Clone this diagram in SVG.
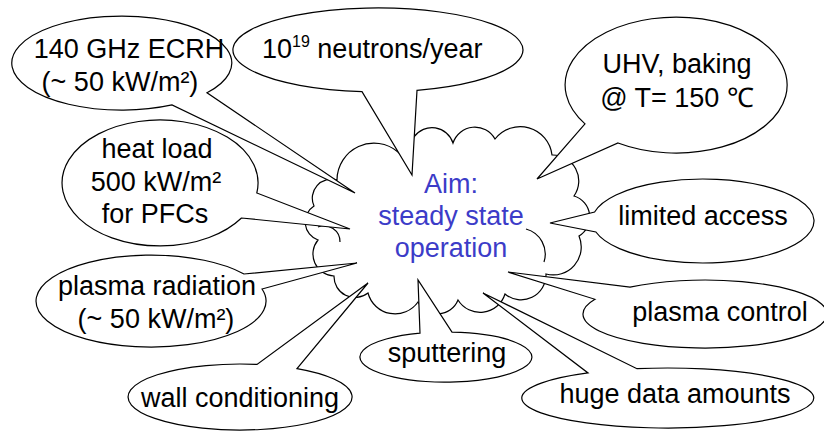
<svg xmlns="http://www.w3.org/2000/svg" width="824" height="432" viewBox="0 0 824 432">
<style>
.sh{fill:#fff;stroke:#000;stroke-width:1.2;stroke-linejoin:miter}
.in{fill:none;stroke:#000;stroke-width:1.2}
.t{font-family:"Liberation Sans",Arial,sans-serif;font-size:27px;fill:#000}
.m{text-anchor:middle}
.aim{font-family:"Liberation Sans",Arial,sans-serif;font-size:27px;fill:#3c3cc8;text-anchor:middle}
</style>
<rect width="824" height="432" fill="#fff"/>
<g id="cloud">
<path class="sh" d="M414,137 A22,22 0 0 1 453,143 A23,23 0 0 1 495,139 A32,32 0 0 1 552,155 A26,26 0 0 1 574,196 A22,22 0 0 1 579,236 A28,28 0 0 1 546,274 A25,25 0 0 1 505,294 A26,26 0 0 1 458,300 A22,22 0 0 1 418,302 A28,28 0 0 1 368,293 A21,21 0 0 1 334,276 A22,22 0 0 1 318,240 A19,19 0 0 1 314,206 A19,19 0 0 1 337,180 A37,37 0 0 1 398,152 A12,12 0 0 1 414,137 Z"/>
<path class="in" d="M526,229 A26,26 0 0 1 544,262"/>
<path class="in" d="M318,227 A16,16 0 0 1 340,242"/>
</g>
<g id="connectors"></g>
<g id="ecrh">
<path class="sh" d="M172,104.9 A110,47 0 1 1 207,92.8 L355,193 Z"/>
<text class="t m" x="129" y="58">140 GHz ECRH</text>
<text class="t m" x="120" y="91">(~ 50 kW/m²)</text>
</g>
<g id="neutrons">
<path class="sh" d="M362,91.7 A145,42 0 1 1 417,90.4 L412,175 Z"/>
<text class="t" x="262" y="58">10<tspan font-size="16" dy="-11">19</tspan><tspan dy="11"> neutrons/year</tspan></text>
</g>
<g id="uhv">
<path class="sh" d="M585,123.9 A111,68 0 1 1 618,143 L537,179 Z"/>
<text class="t m" x="677" y="73">UHV, baking</text>
<text class="t m" x="677" y="107">@ T= 150 ℃</text>
</g>
<g id="heatload">
<path class="sh" d="M241.5,218 A98,63 0 1 1 256.8,193 L350,229 Z"/>
<text class="t m" x="157" y="158">heat load</text>
<text class="t m" x="156" y="191">500 kW/m²</text>
<text class="t m" x="155" y="223">for PFCs</text>
</g>
<g id="limited">
<path class="sh" d="M594.6,212 A111,42 0 1 1 595.9,232 L550,223 Z"/>
<text class="t m" x="703" y="225">limited access</text>
</g>
<g id="radiation">
<path class="sh" d="M262,289 A115,46 0 1 1 244,274 L357,263 Z"/>
<text class="t m" x="157" y="295">plasma radiation</text>
<text class="t m" x="156" y="328">(~ 50 kW/m²)</text>
</g>
<g id="control">
<path class="sh" d="M630,287.2 A122,34 0 1 1 595,299.3 L508,272 Z"/>
<text class="t m" x="720" y="321">plasma control</text>
</g>
<g id="sputtering">
<path class="sh" d="M452,332.1 A86,25 0 1 1 420,333.2 L418,280 Z"/>
<text class="t m" x="447" y="362">sputtering</text>
</g>
<g id="wall">
<path class="sh" d="M297,368.6 A112,33 0 1 1 257,364.4 L368,283 Z"/>
<text class="t m" x="240" y="407">wall conditioning</text>
</g>
<g id="data">
<path class="sh" d="M637,368.7 A146,30 0 1 1 588,372.9 L483,293 Z"/>
<text class="t m" x="675" y="403">huge data amounts</text>
</g>
<g id="aim">
<text class="aim" x="451" y="193">Aim:</text>
<text class="aim" x="451" y="225">steady state</text>
<text class="aim" x="451" y="257">operation</text>
</g>
</svg>
